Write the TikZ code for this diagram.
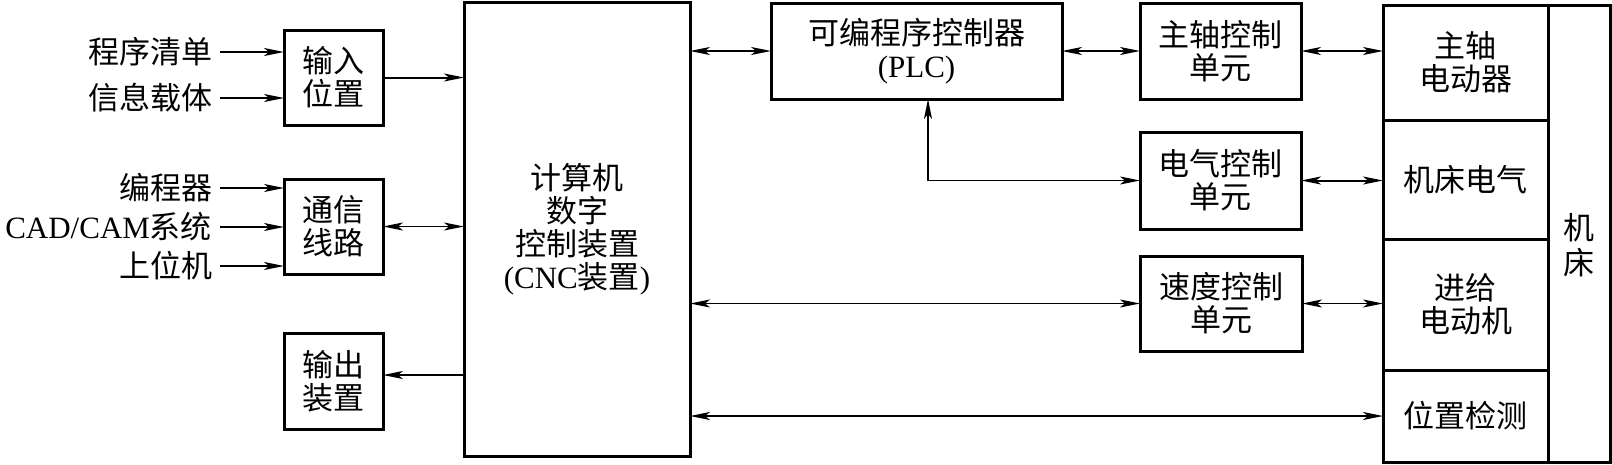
\documentclass[tikz,border=0pt]{standalone}
\usepackage{fontspec}
\setmainfont{Liberation Serif}
\newfontfamily\cjk{Noto Sans CJK SC}
\usetikzlibrary{arrows.meta,calc}
\tikzset{
  zh/.style={font=\cjk\fontsize{31}{33}\selectfont},
  box/.style={draw, line width=3pt, inner sep=0pt, outer sep=0pt, align=center, zh},
  cell/.style={draw, line width=3pt, inner sep=0pt, outer sep=0pt, align=center, zh},
  lbl/.style={inner sep=0pt, outer sep=0pt, anchor=east, zh},
  tip/.tip={Stealth[length=20pt,width=8pt,inset=5pt]},
  conn/.style={line width=1.4pt, -tip},
  bconn/.style={line width=1.4pt, tip-tip},
  heavy/.style={line width=2pt}
}
\begin{document}
\begin{tikzpicture}[x=1pt,y=-1pt]
\path[fill=white] (0,0) rectangle (1612,464);
\useasboundingbox (0,0) rectangle (1612,464);

% left labels
\node[lbl] (l1) at (212,52) {程序清单};
\node[lbl] (l2) at (212,98) {信息载体};
\node[lbl] (l3) at (212,188) {编程器};
\node[lbl] (l4) at (212,227) {\textrm{CAD/CAM}系统};
\node[lbl] (l5) at (212,266) {上位机};

% left boxes
\node[box, minimum width=99pt, minimum height=95pt] (inbox) at (333.5,77.5) {输入\\位置};
\node[box, minimum width=99pt, minimum height=95pt] (commbox) at (333.5,226.5) {通信\\线路};
\node[box, minimum width=99pt, minimum height=96pt] (outbox) at (333.5,381) {输出\\装置};

% CNC
\node[box, minimum width=226pt, minimum height=454pt] (cnc) at (577,229) {计算机\\数字\\控制装置\\\textrm{(CNC}装置\textrm{)}};

% middle boxes
\node[box, minimum width=291pt, minimum height=96pt] (plc) at (916.5,51) {可编程序控制器\\\textrm{(PLC)}};
\node[box, minimum width=161pt, minimum height=96pt] (spc) at (1220.5,51) {主轴控制\\单元};
\node[box, minimum width=161pt, minimum height=97pt] (elc) at (1220.5,180.5) {电气控制\\单元};
\node[box, minimum width=162pt, minimum height=95pt] (vel) at (1221,303.5) {速度控制\\单元};

% machine tool
\node[cell, minimum width=165pt, minimum height=115pt] (c1) at (1465.5,62.5) {主轴\\电动器};
\node[cell, minimum width=165pt, minimum height=119pt] (c2) at (1465.5,179.5) {机床电气};
\node[cell, minimum width=165pt, minimum height=131pt] (c3) at (1465.5,304.5) {进给\\电动机};
\node[cell, minimum width=165pt, minimum height=92pt] (c4) at (1465.5,416) {位置检测};
\node[cell, minimum width=62pt, minimum height=457pt] (col) at (1579,233.5) {};
\node[zh, inner sep=0pt, align=center] (mctext) at (1579,245) {机\\[2pt]床};

% connectors
\draw[conn, heavy] ([xshift=8pt]l1.east) -- (l1.east -| inbox.west);
\draw[conn] ([xshift=8pt]l2.east) -- (l2.east -| inbox.west);
\draw[conn] ([xshift=8pt]l3.east) -- (l3.east -| commbox.west);
\draw[conn] ([xshift=8pt]l4.east) -- (l4.east -| commbox.west);
\draw[conn, heavy] ([xshift=8pt]l5.east) -- (l5.east -| commbox.west);

\draw[conn, heavy] (inbox.east) -- (inbox.east -| cnc.west);
\draw[bconn] (commbox.east) -- (commbox.east -| cnc.west);
\draw[conn] (cnc.west |- 0,375) -- (outbox.east |- 0,375);

\draw[bconn] (cnc.east |- plc.west) -- (plc.west);
\draw[bconn] (plc.east) -- (spc.west);
\draw[bconn] (spc.east) -- (spc.east -| c1.west);
\draw[bconn] ([xshift=11.5pt]plc.south) |- (elc.west);
\draw[bconn, heavy] (elc.east) -- (elc.east -| c2.west);
\draw[bconn] (cnc.east |- vel.west) -- (vel.west);
\draw[bconn] (vel.east) -- (vel.east -| c3.west);
\draw[bconn, heavy] (cnc.east |- c4.west) -- (c4.west);
\end{tikzpicture}
\end{document}
